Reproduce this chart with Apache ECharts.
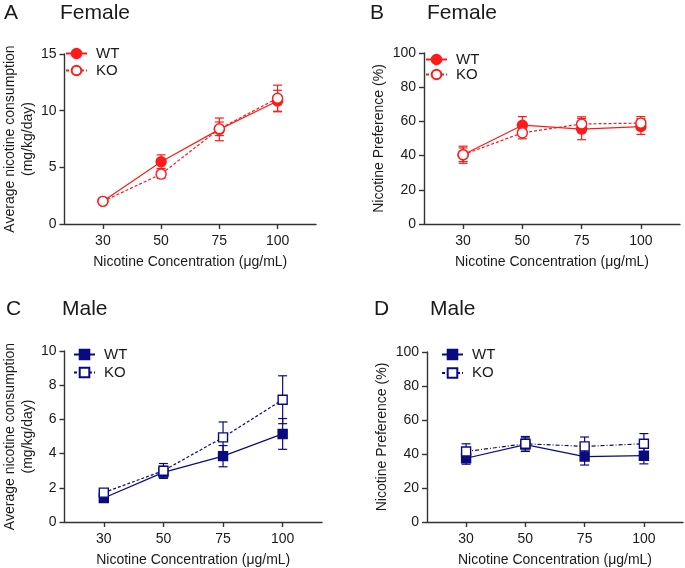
<!DOCTYPE html>
<html>
<head>
<meta charset="utf-8">
<script src="https://cdn.jsdelivr.net/npm/echarts@6/dist/echarts.min.js"></script>
<style>html,body{margin:0;padding:0;background:#fff}#c{width:685px;height:568px}</style>
</head>
<body>
<div id="c"></div>
<script>
// ---- data ----
const categories = ['30', '50', '75', '100'];
const consTicksFemale = [0, 5, 10, 15];
const consTicksMale = [0, 2, 4, 6, 8, 10];
const prefTicks = [0, 20, 40, 60, 80, 100];

const femaleConsWT = [2.0, 5.5, 8.35, 10.85];
const femaleConsWTErr = [0.15, 0.6, 1.0, 0.95];
const femaleConsKO = [2.0, 4.4, 8.4, 11.1];
const femaleConsKOErr = [0.15, 0.35, 0.6, 1.15];

const femalePrefWT = [40.5, 57.8, 55.5, 57.0];
const femalePrefWTErr = [5.0, 5.0, 6.2, 4.6];
const femalePrefKO = [40.5, 53.3, 58.5, 59.0];
const femalePrefKOErr = [4.0, 3.5, 4.2, 3.8];

const maleConsWT = [1.4, 2.9, 3.85, 5.15];
const maleConsWTErr = [0.12, 0.35, 0.62, 0.9];
const maleConsKO = [1.72, 3.0, 4.95, 7.15];
const maleConsKOErr = [0.12, 0.42, 0.9, 1.4];

const malePrefWT = [37.5, 45.5, 38.5, 39.0];
const malePrefWTErr = [3.5, 4.0, 5.0, 4.8];
const malePrefKO = [41.5, 46.0, 44.5, 46.0];
const malePrefKOErr = [4.5, 4.3, 5.5, 6.0];

// ---- styling ----
const FONT = '"Liberation Sans", Arial, Helvetica, sans-serif';
const RED = '#ff1a1a';
const NAVY = '#0a0a80';
const AXIS = '#333333';
const TXT = '#1a1a1a';

const grids = [
  {left: 62, top: 54, width: 254, height: 170},
  {left: 424, top: 53, width: 256, height: 171},
  {left: 64, top: 351, width: 258, height: 171},
  {left: 427, top: 352, width: 256, height: 171}
];

function xAxis(i) {
  return {
    type: 'value', gridIndex: i, min: -0.66, max: 3.66,
    name: 'Nicotine Concentration (\u03bcg/mL)', nameLocation: 'middle', nameGap: 31,
    nameTextStyle: {fontFamily: FONT, fontSize: 14, color: TXT},
    axisLine: {show: true, onZero: false, lineStyle: {color: AXIS, width: 1.4}},
    axisTick: {show: true, length: 5, customValues: [0, 1, 2, 3], lineStyle: {color: AXIS, width: 1.4}},
    axisLabel: {customValues: [0, 1, 2, 3], formatter: v => categories[Math.round(v)], margin: 10,
      fontFamily: FONT, fontSize: 14, color: TXT},
    splitLine: {show: false}
  };
}
function yAxis(i, ticks, name, gap) {
  const step = ticks[1] - ticks[0];
  return {
    type: 'value', gridIndex: i, min: ticks[0], max: ticks[ticks.length - 1], interval: step,
    name: name, nameLocation: 'middle', nameGap: gap, nameRotate: 90,
    nameTextStyle: {fontFamily: FONT, fontSize: 14, color: TXT, lineHeight: 18, align: 'center'},
    axisLine: {show: true, onZero: false, lineStyle: {color: AXIS, width: 1.4}},
    axisTick: {show: true, length: 5, lineStyle: {color: AXIS, width: 1.4}},
    axisLabel: {margin: 8, fontFamily: FONT, fontSize: 14, color: TXT},
    splitLine: {show: false}
  };
}

function errSeries(i, means, errs, color) {
  return {
    type: 'custom', xAxisIndex: i, yAxisIndex: i, z: 1, silent: true,
    data: means.map((m, k) => [k, m, errs[k]]),
    renderItem: function (params, api) {
      const x = api.value(0), m = api.value(1), e = api.value(2);
      const top = api.coord([x, m + e]);
      const bot = api.coord([x, m - e]);
      const w = 4.5;
      const st = {stroke: color, lineWidth: 1.2};
      return {type: 'group', children: [
        {type: 'line', shape: {x1: top[0], y1: top[1], x2: bot[0], y2: bot[1]}, style: st},
        {type: 'line', shape: {x1: top[0] - w, y1: top[1], x2: top[0] + w, y2: top[1]}, style: st},
        {type: 'line', shape: {x1: bot[0] - w, y1: bot[1], x2: bot[0] + w, y2: bot[1]}, style: st}
      ]};
    }
  };
}
function lineSeries(i, name, means, color, filled, symbol, dash, size) {
  return {
    type: 'line', name: name, xAxisIndex: i, yAxisIndex: i, z: filled ? 2 : 3,
    data: means.map((m, k) => [k, m]),
    symbol: symbol, symbolSize: size,
    lineStyle: {color: color, width: 1.2, type: dash},
    itemStyle: {color: filled ? color : '#ffffff', borderColor: color, borderWidth: 1.4, opacity: 1},
    emphasis: {disabled: true},
    animation: false
  };
}

const series = [
  errSeries(0, femaleConsWT, femaleConsWTErr, RED),
  errSeries(0, femaleConsKO, femaleConsKOErr, RED),
  lineSeries(0, 'WT', femaleConsWT, RED, true, 'circle', 'solid', 10),
  lineSeries(0, 'KO', femaleConsKO, RED, false, 'circle', [3, 2], 10),

  errSeries(1, femalePrefWT, femalePrefWTErr, RED),
  errSeries(1, femalePrefKO, femalePrefKOErr, RED),
  lineSeries(1, 'WT', femalePrefWT, RED, true, 'circle', 'solid', 10),
  lineSeries(1, 'KO', femalePrefKO, RED, false, 'circle', [3, 2], 10),

  errSeries(2, maleConsWT, maleConsWTErr, NAVY),
  errSeries(2, maleConsKO, maleConsKOErr, NAVY),
  lineSeries(2, 'WT_m', maleConsWT, NAVY, true, 'rect', 'solid', 9),
  lineSeries(2, 'KO_m', maleConsKO, NAVY, false, 'rect', [3, 2], 9),

  errSeries(3, malePrefWT, malePrefWTErr, NAVY),
  errSeries(3, malePrefKO, malePrefKOErr, NAVY),
  lineSeries(3, 'WT_m', malePrefWT, NAVY, true, 'rect', 'solid', 9),
  lineSeries(3, 'KO_m', malePrefKO, NAVY, false, 'rect', [4, 2, 1, 2], 9)
];

function legend(left, top, names, gap) {
  return {
    data: names, left: left, top: top, orient: 'vertical', padding: 0,
    itemWidth: 21, itemHeight: 12, itemGap: gap, selectedMode: false,
    formatter: n => n.replace('_m', ''),
    textStyle: {fontFamily: FONT, fontSize: 15, lineHeight: 15, color: TXT, padding: [0, 0, 0, 4]}
  };
}

function titles(letter, word, x1, x2, top) {
  const s = {fontFamily: FONT, fontSize: 21, fontWeight: 'normal', color: TXT};
  return [
    {text: letter, left: x1, top: top, padding: 0, textStyle: s},
    {text: word, left: x2, top: top, padding: 0, textStyle: s}
  ];
}

const option = {
  animation: false,
  backgroundColor: '#ffffff',
  title: [].concat(
    titles('A', 'Female', 4, 60, 3),
    titles('B', 'Female', 370, 427, 3),
    titles('C', 'Male', 6, 62, 299),
    titles('D', 'Male', 374, 430, 299)
  ),
  legend: [
    legend(65, 46, ['WT', 'KO'], 2),
    legend(425, 52, ['WT', 'KO'], 0),
    legend(73, 347, ['WT_m', 'KO_m'], 3),
    legend(441, 347, ['WT_m', 'KO_m'], 3.5)
  ],
  grid: grids,
  xAxis: [xAxis(0), xAxis(1), xAxis(2), xAxis(3)],
  yAxis: [
    yAxis(0, consTicksFemale, 'Average nicotine consumption\n(mg/kg/day)', 26),
    yAxis(1, prefTicks, 'Nicotine Preference (%)', 36),
    yAxis(2, consTicksMale, 'Average nicotine consumption\n(mg/kg/day)', 26),
    yAxis(3, prefTicks, 'Nicotine Preference (%)', 36)
  ],
  series: series
};

const chart = echarts.init(document.getElementById('c'), null, {renderer: 'canvas'});
chart.setOption(option);
</script>
</body>
</html>
